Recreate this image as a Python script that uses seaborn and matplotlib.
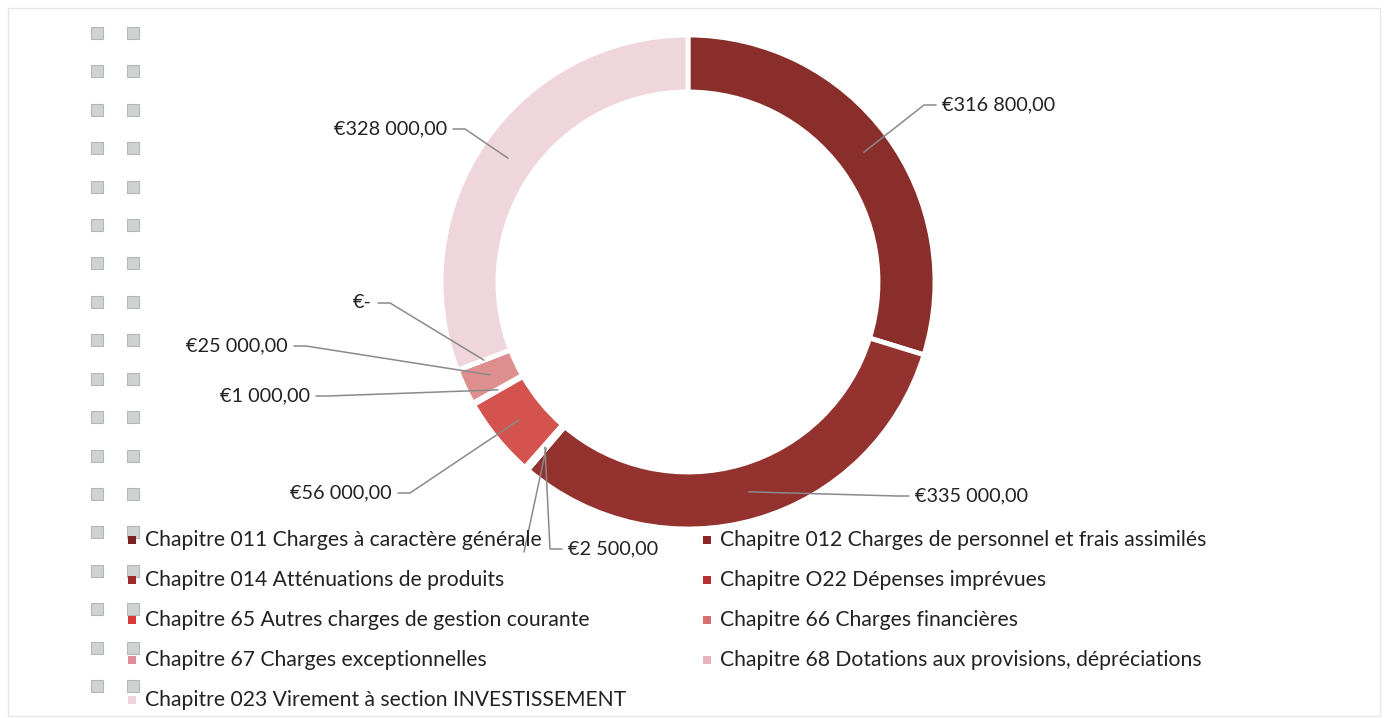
import numpy as np
import matplotlib.pyplot as plt
import seaborn as sns
from matplotlib.patches import Rectangle

categories = [
    "Chapitre 011 Charges à caractère générale",
    "Chapitre 012 Charges de personnel et frais assimilés",
    "Chapitre 014 Atténuations de produits",
    "Chapitre O22 Dépenses imprévues",
    "Chapitre 65 Autres charges de gestion courante",
    "Chapitre 66 Charges financières",
    "Chapitre 67 Charges exceptionnelles",
    "Chapitre 68 Dotations aux provisions, dépréciations",
    "Chapitre 023 Virement à section INVESTISSEMENT",
]
values = [316800, 335000, 0, 2500, 56000, 1000, 25000, 0, 328000]
slice_colors = ["#8a2e2b", "#94322f", "#a3302c", "#b73a36", "#d4534e",
                "#d97a78", "#de8e8e", "#e6b4bd", "#efd6dd"]
marker_colors = ["#7a2222", "#8c2626", "#9f2a2a", "#b83030", "#d83a3a",
                 "#d86e72", "#e08c96", "#e8b2bf", "#f0d2da"]
# label placement (pixel coords from top): x, y, horizontal alignment; None = no text
label_pos = [(942, 105, "left"), (915, 496, "left"), (524, 552, None),
             (568, 549, "left"), (392, 493, "right"), (310, 396, "right"),
             (288, 346, "right"), (372, 303, "right"), (447, 129, "right")]

sns.set_theme(style="white")
plt.rcParams["font.family"] = ["Lato", "DejaVu Sans"]

W, H = 1388, 718
fig = plt.figure(figsize=(W / 100, H / 100), dpi=100)
ax = fig.add_axes([0, 0, 1, 1])

cx, cy = 688, H - 282
R, ring = 247, 57
ax.pie(values, colors=sns.color_palette(slice_colors), startangle=90,
       counterclock=False, center=(cx, cy), radius=R,
       wedgeprops=dict(width=ring, edgecolor="white", linewidth=3.5))
ax.set_xlim(0, W)
ax.set_ylim(0, H)
ax.set_aspect("auto")
ax.axis("off")


def fmt(v):
    if v == 0:
        return "€-"
    return "€" + f"{v:,.2f}".replace(",", " ").replace(".", ",")


total = sum(values)
cum = 0
for v, (tx, ty, ha) in zip(values, label_pos):
    mid = np.deg2rad((cum + v / 2) / total * 360)
    cum += v
    rm = R - ring / 2
    px, py = cx + rm * np.sin(mid), cy + rm * np.cos(mid)
    ty_d = H - ty
    if ha is None:
        ax.plot([px, tx], [py, ty_d], color="#8a8a8a", lw=1.1, zorder=2)
        continue
    d = 1 if ha == "left" else -1
    end = tx - d * 6
    elbow = end - d * 12
    ax.plot([px, elbow, end], [py, ty_d, ty_d], color="#8a8a8a", lw=1.1)
    ax.text(tx, ty_d, fmt(v), ha=ha, va="center", fontsize=14.3, color="#222222")

# scan artifacts: grey squares on the left
for yy in np.linspace(33, 686, 18):
    for xx in (97, 133):
        ax.add_patch(Rectangle((xx - 6, H - yy - 6), 12, 12, facecolor="#cfd2d2",
                               edgecolor="#b3b7b7", lw=0.8, zorder=1))

# legend
for i, (name, c) in enumerate(zip(categories, marker_colors)):
    col, row = i % 2, i // 2
    mx = 132 if col == 0 else 707
    my = H - (540 + row * 40)
    ax.add_patch(Rectangle((mx - 4, my - 4), 8, 8, facecolor=c, lw=0, zorder=3))
    ax.text(mx + 13, my, name, ha="left", va="center", fontsize=15.2,
            color="#222222", zorder=3)

# faint frame
ax.add_patch(Rectangle((8, 2), W - 16, H - 10, fill=False, edgecolor="#e6e6e6", lw=1))

fig.savefig("out.png", dpi=100)
